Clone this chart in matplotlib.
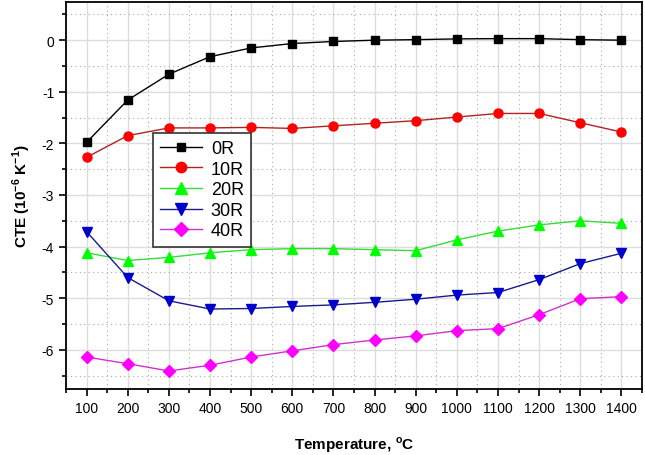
import numpy as np
import matplotlib
matplotlib.use("Agg")
from matplotlib import pyplot as plt
from matplotlib.ticker import MultipleLocator

plt.rcParams['font.family'] = ['Liberation Sans', 'DejaVu Sans']

# temperatura i CTE vrijednosti ocitane sa slike
temp = [100, 200, 300, 400, 500, 600, 700, 800, 900, 1000, 1100, 1200, 1300, 1400]
cte_0r = [-1.98, -1.16, -0.66, -0.32, -0.15, -0.065, -0.025, 0.0, 0.01, 0.025, 0.03, 0.03, 0.01, 0.0]
cte_10r = [-2.27, -1.85, -1.70, -1.70, -1.69, -1.71, -1.66, -1.61, -1.56, -1.49, -1.42, -1.42, -1.60, -1.78]
cte_20r = [-4.12, -4.27, -4.21, -4.12, -4.06, -4.04, -4.04, -4.06, -4.08, -3.87, -3.70, -3.58, -3.50, -3.55]
cte_30r = [-3.71, -4.60, -5.05, -5.21, -5.20, -5.16, -5.13, -5.08, -5.02, -4.94, -4.89, -4.64, -4.33, -4.13]
cte_40r = [-6.14, -6.27, -6.41, -6.30, -6.14, -6.02, -5.90, -5.81, -5.73, -5.63, -5.59, -5.32, -5.01, -4.97]

labels = ['0R', '10R', '20R', '30R', '40R']
serije = [cte_0r, cte_10r, cte_20r, cte_30r, cte_40r]
boje_linija = ['#000000', '#b22222', '#33dd33', '#1a1a8c', '#cc33cc']
boje_markera = ['#000000', '#ff0000', '#00ff00', '#0000cc', '#ff00ff']
markeri = ['s', 'o', '^', 'v', 'D']
velicine = [5.5, 6.5, 7, 7, 6]

fig = plt.figure(figsize=(6.45, 4.56), dpi=100)
ax = fig.add_axes([66/645, 1 - 390/456, 576/645, 387/456])

for y, lab, lc, mc, m, ms in zip(serije, labels, boje_linija, boje_markera, markeri, velicine):
    ax.plot(temp, y, color=lc, lw=1.0, marker=m, markersize=ms,
            markerfacecolor=mc, markeredgecolor=mc, label=lab)

ax.set_xlim(50, 1450)
ax.set_ylim(-6.76, 0.74)
ax.set_xticks(temp)
ax.xaxis.set_minor_locator(MultipleLocator(50))
ax.yaxis.set_major_locator(MultipleLocator(1))
ax.yaxis.set_minor_locator(MultipleLocator(0.5))
ax.set_yticklabels([f'{int(v)}' for v in ax.get_yticks()])

ax.grid(which='major', color='#dddddd', lw=1.0, ls='-')
ax.grid(which='minor', color='#aaaaaa', lw=0.8, ls=(0, (1, 3)))
ax.set_axisbelow(True)

ax.tick_params(which='both', direction='out', top=False, right=False, labelsize=10, width=1.2)
ax.tick_params(which='major', length=5)
ax.tick_params(which='minor', length=3)
for s in ax.spines.values():
    s.set_linewidth(1.3)

ax.set_xlabel('Temperature, $^{\\mathregular{o}}$C', fontsize=11, fontweight='bold', labelpad=14)
ax.set_ylabel('CTE (10$^{\\mathregular{-6}}$ K$^{\\mathregular{-1}}$)', fontsize=11, fontweight='bold', labelpad=6)

leg = ax.legend(loc='upper left', bbox_to_anchor=(0.151, 0.662), fontsize=13,
                fancybox=False, edgecolor='#333333', framealpha=1, handlelength=2.3,
                borderpad=0.4, labelspacing=0.2, handletextpad=0.5, borderaxespad=0,
                markerscale=1.15)
leg.get_frame().set_linewidth(1.2)

plt.savefig('out.png', dpi=100)
